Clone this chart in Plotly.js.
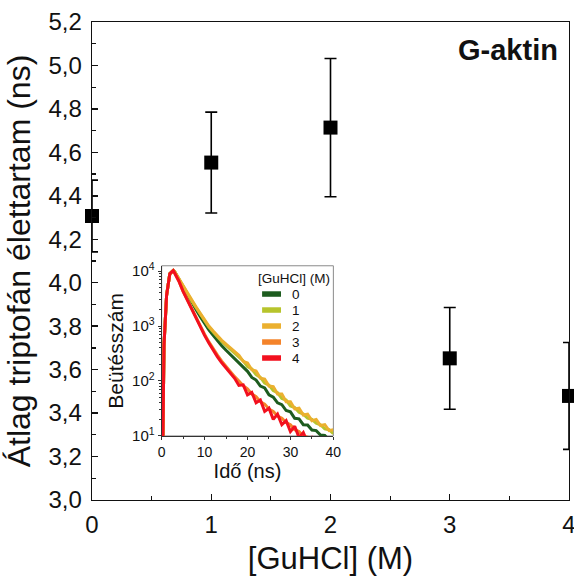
<!DOCTYPE html>
<html>
<head>
<meta charset="utf-8">
<script src="https://cdn.plot.ly/plotly-3.0.1.min.js"></script>
<style>html,body{margin:0;padding:0;background:#fff;}#chart{width:574px;height:583px;}</style>
</head>
<body>
<div id="chart"></div>
<script>
// Main chart: average tryptophan lifetime vs GuHCl concentration
const conc = [0, 1, 2, 3, 4];
const lifetime = [4.307, 4.553, 4.714, 3.652, 3.479];
const lifetimeErr = [0.165, 0.232, 0.318, 0.234, 0.246];

// Inset: fluorescence decay curves (counts vs time in ns)
const decayTime = [0, 0.3, 0.55, 1.15, 1.9, 2.7, 3, 4, 5, 6, 7, 8, 9, 10, 11, 12, 13, 14, 15, 16, 17, 18, 19, 20,
  21, 22, 23, 24, 25, 26, 27, 28, 29, 30, 31, 32, 33, 34, 35, 36, 37, 38, 39, 40];
const counts0 = [1, 10, 450, 3600, 8900, 10200, 9770, 7080, 5010, 3630, 2690, 2000, 1480, 1100, 851, 676, 537, 437, 363, 302, 251, 209, 174, 150,
  116, 104, 81, 75, 56, 51, 40, 37, 29, 27.5, 21, 20.5, 16, 15.8, 12.8, 12.5, 10.4, 10.2, 8.5, 8.3];
const counts1 = [1, 10, 450, 3600, 8900, 10200, 9770, 7150, 5150, 3800, 2870, 2170, 1640, 1240, 960, 780, 630, 525, 445, 378, 320, 262, 232, 182,
  165, 130, 116, 92, 84, 67, 61, 48, 45, 35, 33, 27, 25, 21, 20, 17, 16, 13.5, 13, 11];
const counts2 = [1, 10, 450, 3600, 8900, 10200, 9770, 7240, 5250, 3890, 2950, 2240, 1700, 1290, 1000, 813, 661, 550, 468, 398, 339, 295, 228, 212,
  160, 152, 112, 108, 81, 79, 58, 58, 42, 42, 31, 32, 24, 25, 19, 20, 15.5, 16, 12.5, 13];
const counts3 = [1, 10, 450, 3600, 8900, 10200, 9330, 6610, 4270, 2950, 2040, 1450, 990, 710, 515, 385, 295, 230, 182, 148, 120, 100, 82, 72,
  58, 52, 42, 38, 31, 28, 23, 21, 17.5, 16, 13, 12, 10, 9.5, 8, 7.5, 6.5, 6, 5, 5];
const counts4 = [1, 10, 450, 3600, 8900, 10200, 9330, 6610, 4270, 2950, 2040, 1410, 955, 676, 490, 363, 275, 214, 170, 138, 112, 83, 85, 56,
  62, 40, 45, 28, 32, 20, 25, 16, 19, 12, 15, 9.3, 11.5, 7.6, 9.3, 7, 8, 6.3, 5, 5];

const seriesNames = ['0', '1', '2', '3', '4'];
const seriesColors = ['#1d5c1f', '#b7c42c', '#ebb02f', '#f4832a', '#f2101e'];
const seriesCounts = [counts0, counts1, counts2, counts3, counts4];
const legendTitle = '[GuHCl] (M)';

const insetYTickVals = [10, 100, 1000, 10000];
const insetYTickText = ['10<sup>1</sup>', '10<sup>2</sup>', '10<sup>3</sup>', '10<sup>4</sup>'];

const FONT = 'Liberation Sans, Arial, sans-serif';

const traces = [];
seriesCounts.forEach((c, i) => {
  traces.push({
    x: decayTime, y: c, xaxis: 'x2', yaxis: 'y2', type: 'scatter', mode: 'lines',
    name: seriesNames[i], line: {color: seriesColors[i], width: 3}, showlegend: false, hoverinfo: 'skip'
  });
});
traces.push({
  x: conc, y: lifetime, type: 'scatter', mode: 'markers', showlegend: false,
  marker: {symbol: 'square', size: 14, color: '#000'},
  error_y: {type: 'data', array: lifetimeErr, visible: true, color: '#000', thickness: 1.6, width: 6},
  cliponaxis: false
});

// inset legend drawn in the inset's domain coordinates
const shapes = [{
  type: 'rect', xref: 'x2 domain', yref: 'y2 domain', x0: 0, x1: 1, y0: 0, y1: 1,
  line: {color: '#8a8a8a', width: 1}, layer: 'below'
}];
const annotations = [{
  text: '<b>G-aktin</b>', xref: 'paper', yref: 'paper', x: 0.981, y: 0.941,
  xanchor: 'right', yanchor: 'middle', showarrow: false,
  font: {size: 29, family: FONT, color: '#111'}
}, {
  text: legendTitle, xref: 'x2 domain', yref: 'y2 domain', x: 0.552, y: 0.928,
  xanchor: 'left', yanchor: 'middle', showarrow: false,
  font: {size: 13.5, family: FONT, color: '#111'}
}];
seriesNames.forEach((n, i) => {
  const yy = 0.834 - i * 0.094;
  shapes.push({
    type: 'line', xref: 'x2 domain', yref: 'y2 domain', x0: 0.585, x1: 0.695, y0: yy, y1: yy,
    line: {color: seriesColors[i], width: 5.5}
  });
  annotations.push({
    text: n, xref: 'x2 domain', yref: 'y2 domain', x: 0.745, y: yy,
    xanchor: 'left', yanchor: 'middle', showarrow: false,
    font: {size: 13.5, family: FONT, color: '#111'}
  });
});

const layout = {
  width: 574, height: 583,
  margin: {l: 92, r: 5, t: 22, b: 83},
  paper_bgcolor: '#fff', plot_bgcolor: 'rgba(0,0,0,0)',
  separators: ', ',
  font: {family: FONT, color: '#111'},
  showlegend: false,
  xaxis: {
    domain: [0, 1], range: [0, 4], dtick: 1, tick0: 0,
    showline: true, linecolor: '#111', linewidth: 1.4, mirror: true,
    ticks: 'inside', ticklen: 6, tickwidth: 1.4, tickcolor: '#111',
    minor: {dtick: 0.5, ticks: 'inside', ticklen: 4, tickwidth: 1.2, tickcolor: '#111'},
    showgrid: false, zeroline: false,
    tickfont: {size: 24, family: FONT, color: '#111'},
    ticklabelstandoff: 3, ticklabeloverflow: 'allow',
    title: {text: '[GuHCl] (M)', font: {size: 31, family: FONT, color: '#111'}, standoff: 10}
  },
  yaxis: {
    domain: [0, 1], range: [3.0, 5.2], dtick: 0.2, tick0: 3.0, tickformat: '.1f',
    showline: true, linecolor: '#111', linewidth: 1.4, mirror: true,
    ticks: 'inside', ticklen: 6, tickwidth: 1.4, tickcolor: '#111',
    minor: {dtick: 0.1, ticks: 'inside', ticklen: 4, tickwidth: 1.2, tickcolor: '#111'},
    showgrid: false, zeroline: false,
    tickfont: {size: 24, family: FONT, color: '#111'},
    ticklabelstandoff: 4, ticklabeloverflow: 'allow',
    title: {text: 'Átlag triptofán élettartam (ns)', font: {size: 32, family: FONT, color: '#111'}, standoff: 8}
  },
  xaxis2: {
    domain: [0.146, 0.506], anchor: 'y2', range: [0, 40], dtick: 10, tick0: 0,
    showline: true, linecolor: '#333', linewidth: 1,
    ticks: 'outside', ticklen: 3, tickwidth: 1, tickcolor: '#333',
    minor: {dtick: 5, ticks: 'outside', ticklen: 2, tickcolor: '#333'},
    showgrid: false, zeroline: false,
    tickfont: {size: 14, family: FONT, color: '#111'},
    title: {text: 'Idő (ns)', font: {size: 20, family: FONT, color: '#111'}, standoff: 4}
  },
  yaxis2: {
    domain: [0.134, 0.490], anchor: 'x2', type: 'log', range: [1, 4.096],
    tickmode: 'array', tickvals: insetYTickVals, ticktext: insetYTickText,
    showline: true, linecolor: '#333', linewidth: 1,
    ticks: 'outside', ticklen: 3, tickwidth: 1, tickcolor: '#333',
    minor: {dtick: 'D1', ticks: 'outside', ticklen: 2, tickcolor: '#333'},
    showgrid: false, zeroline: false,
    tickfont: {size: 15, family: FONT, color: '#111'},
    title: {text: 'Beütésszám', font: {size: 21, family: FONT, color: '#111'}, standoff: 2}
  },
  shapes: shapes,
  annotations: annotations
};

Plotly.newPlot('chart', traces, layout, {displayModeBar: false, staticPlot: true});
</script>
</body>
</html>
